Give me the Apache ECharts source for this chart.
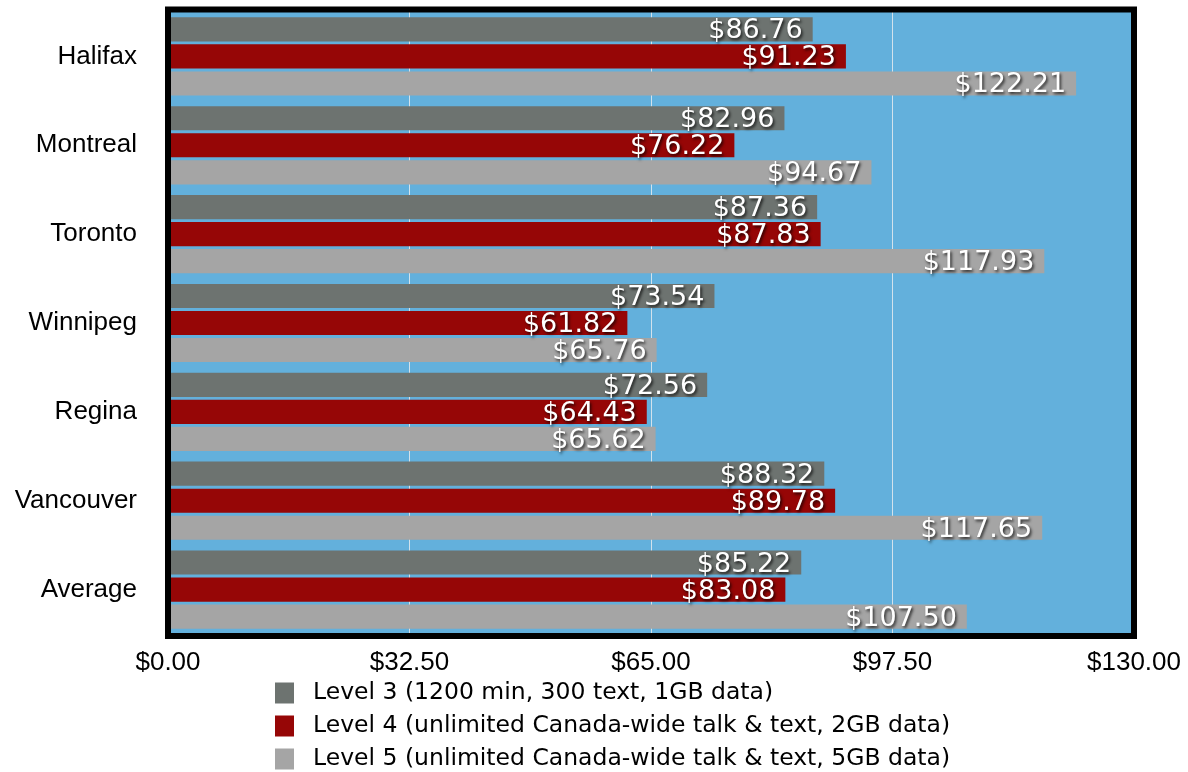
<!DOCTYPE html>
<html>
<head>
<meta charset="utf-8">
<script src="https://cdn.jsdelivr.net/npm/echarts@6/dist/echarts.min.js"></script>
<style>
  html, body { margin: 0; padding: 0; background: #fff; }
  #chart { width: 1188px; height: 772px; }
</style>
</head>
<body>
<div id="chart"></div>
<script>
const cities = ['Halifax', 'Montreal', 'Toronto', 'Winnipeg', 'Regina', 'Vancouver', 'Average'];
const level3 = [86.76, 82.96, 87.36, 73.54, 72.56, 88.32, 85.22];
const level4 = [91.23, 76.22, 87.83, 61.82, 64.43, 89.78, 83.08];
const level5 = [122.21, 94.67, 117.93, 65.76, 65.62, 117.65, 107.50];
const seriesNames = [
  'Level 3 (1200 min, 300 text, 1GB data)',
  'Level 4 (unlimited Canada-wide talk & text, 2GB data)',
  'Level 5 (unlimited Canada-wide talk & text, 5GB data)'
];
const colors = ['#6d7370', '#960606', '#a5a5a5'];

const font = '"Liberation Sans", Helvetica, Arial, sans-serif';
const wideFont = '"DejaVu Sans", Verdana, sans-serif';
const chart = echarts.init(document.getElementById('chart'));

const money = v => '$' + Number(v).toFixed(2);

const makeSeries = (name, data, color) => ({
  name,
  type: 'bar',
  data,
  barGap: '12%',
  barCategoryGap: '12%',
  itemStyle: { color },
  label: {
    show: true,
    position: 'insideRight',
    distance: 10,
    offset: [0, 2],
    formatter: p => money(p.value),
    color: '#fff',
    fontFamily: wideFont,
    fontSize: 27,
    textShadowColor: 'rgba(0,0,0,0.75)',
    textShadowBlur: 3,
    textShadowOffsetX: 1.5,
    textShadowOffsetY: 2
  }
});

const option = {
  animation: false,
  textStyle: { fontFamily: font },
  grid: {
    left: 168,
    right: 54,
    top: 12,
    bottom: 138,
    show: true,
    backgroundColor: '#63b0dc',
    borderWidth: 0
  },
  xAxis: {
    type: 'value',
    min: 0,
    max: 130,
    interval: 32.5,
    axisLine: { show: false },
    axisTick: { show: false },
    splitLine: { show: true, lineStyle: { color: '#d2e2ec', width: 1 } },
    axisLabel: {
      formatter: v => money(v),
      color: '#000',
      fontFamily: font,
      fontSize: 26,
      margin: 16
    }
  },
  yAxis: {
    type: 'category',
    data: cities,
    inverse: true,
    axisLine: { show: false },
    axisTick: { show: false },
    axisLabel: {
      color: '#000',
      fontFamily: font,
      fontSize: 26,
      margin: 31,
      padding: [7, 0, 0, 0]
    }
  },
  legend: {
    orient: 'vertical',
    left: 275,
    top: 681,
    height: 120,
    padding: 0,
    itemWidth: 19,
    itemHeight: 21,
    itemGap: 9,
    icon: 'rect',
    data: seriesNames,
    textStyle: {
      color: '#000',
      fontFamily: wideFont,
      fontSize: 23.5,
      lineHeight: 21,
      padding: [0, 0, 0, 14]
    }
  },
  graphic: [{
    type: 'rect',
    z: 100,
    silent: true,
    shape: { x: 168, y: 9.5, width: 966, height: 626.5 },
    style: { fill: null, stroke: '#000', lineWidth: 6 }
  }],
  series: [
    makeSeries(seriesNames[0], level3, colors[0]),
    makeSeries(seriesNames[1], level4, colors[1]),
    makeSeries(seriesNames[2], level5, colors[2])
  ]
};

chart.setOption(option);
</script>
</body>
</html>
